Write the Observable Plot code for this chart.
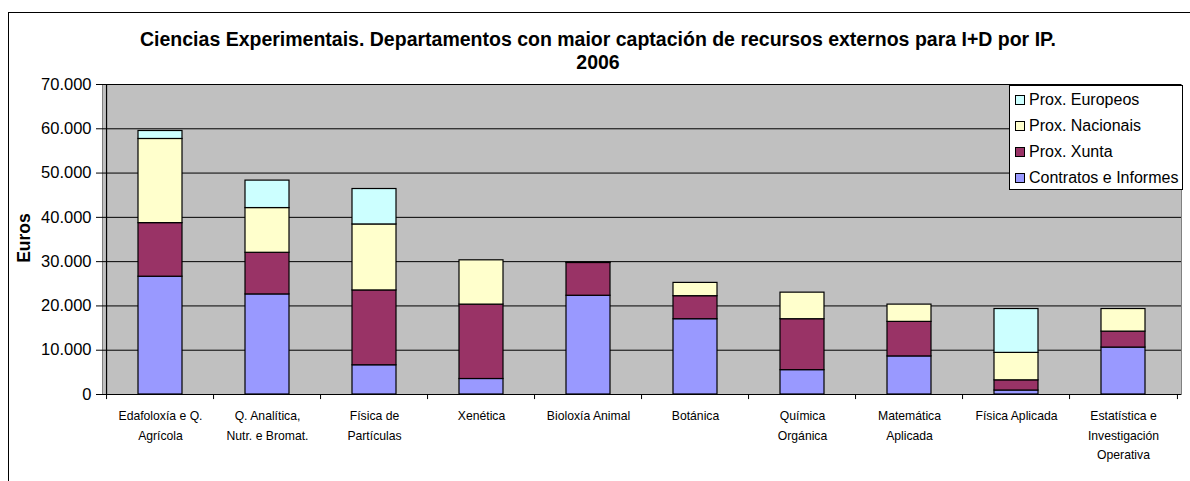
<!DOCTYPE html>
<html>
<head>
<meta charset="utf-8">
<script src="https://cdn.jsdelivr.net/npm/d3@7"></script>
<script src="https://cdn.jsdelivr.net/npm/@observablehq/plot@0.6"></script>
<style>
  html, body { margin: 0; padding: 0; background: #fff; overflow: hidden; }
  body { width: 1190px; height: 481px; position: relative; font-family: Arial, "Liberation Sans", sans-serif; }
  #frame { position: absolute; left: 8px; top: 12px; width: 1300px; height: 600px; border: 1.5px solid #000; box-sizing: border-box; }
  #chart { position: absolute; left: 0; top: 0; }
  #title { position: absolute; left: 60px; width: 1076px; top: 28px; text-align: center; font-weight: bold; font-size: 19.5px; line-height: 23px; color: #000; }
  #ylabel { position: absolute; left: 24px; top: 238px; transform: translate(-50%, -50%) rotate(-90deg); font-weight: bold; font-size: 17.5px; color: #000; white-space: nowrap; }
  #legend { position: absolute; left: 1009px; top: 85px; width: 174px; height: 105px; box-sizing: border-box; border: 1px solid #000; background: #fff; padding: 0.5px 0 0 5px; }
  .li { height: 26.2px; display: flex; align-items: center; font-size: 16px; color: #000; white-space: nowrap; }
  .sw { width: 8px; height: 8px; border: 1px solid #000; margin-right: 4px; flex: none; }
</style>
</head>
<body>
<div id="frame"></div>
<div id="chart"></div>
<div id="title"></div>
<div id="ylabel"></div>
<div id="legend"></div>
<script>
const titleText = "Ciencias Experimentais. Departamentos con maior captación de recursos externos para I+D por IP.";
const subtitleText = "2006";
const yLabel = "Euros";

const categories = [
  "Edafoloxía e Q. Agrícola",
  "Q. Analítica, Nutr. e Bromat.",
  "Física de Partículas",
  "Xenética",
  "Bioloxía Animal",
  "Botánica",
  "Química Orgánica",
  "Matemática Aplicada",
  "Física Aplicada",
  "Estatística e Investigación Operativa"
];
const tickLabels = [
  "Edafoloxía e Q.\nAgrícola",
  "Q. Analítica,\nNutr. e Bromat.",
  "Física de\nPartículas",
  "Xenética",
  "Bioloxía Animal",
  "Botánica",
  "Química\nOrgánica",
  "Matemática\nAplicada",
  "Física Aplicada",
  "Estatística e\nInvestigación\nOperativa"
];

const series = ["Contratos e Informes", "Prox. Xunta", "Prox. Nacionais", "Prox. Europeos"];
const seriesColors = ["#9999FF", "#993366", "#FFFFCC", "#CCFFFF"];

const contratos = [26600, 22600, 6600, 3500, 22300, 17000, 5500, 8600, 900, 10600];
const xunta     = [12100,  9400, 16900, 16800, 7400, 5200, 11500, 7800, 2300, 3600];
const nacionais = [19000, 10100, 14900, 10000,  100, 3000,  6000, 3900, 6200, 5100];
const europeos  = [ 1800,  6200,  8000,     0,    0,    0,     0,    0, 9900,    0];

const yTicks = [0, 10000, 20000, 30000, 40000, 50000, 60000, 70000];

const seriesValues = [contratos, xunta, nacionais, europeos];
const data = [];
series.forEach((s, si) => {
  categories.forEach((c, ci) => {
    data.push({category: c, series: s, value: seriesValues[si][ci]});
  });
});

const width = 1190, height = 481;
const marginLeft = 102, marginRight = 9, marginTop = 84, marginBottom = 87;
const step = (width - marginLeft - marginRight) / categories.length;
const fmt = v => d3.format(",")(v).replace(/,/g, ".");

const plot = Plot.plot({
  width, height, marginLeft, marginRight, marginTop, marginBottom,
  style: {fontFamily: "Arial, 'Liberation Sans', sans-serif", background: "transparent"},
  x: {domain: categories, paddingInner: 0.59, paddingOuter: 0.295, label: null},
  y: {domain: [0, 70000], label: null},
  color: {domain: series, range: seriesColors},
  marks: [
    Plot.frame({fill: "#C0C0C0", stroke: "#808080"}),
    Plot.gridY(yTicks, {stroke: "#000", strokeOpacity: 1, strokeWidth: 1}),
    Plot.barY(data, {x: "category", y: "value", fill: "series", order: series, stroke: "#000", strokeWidth: 1.2}),
    Plot.ruleX([categories[0]], {x: d => d, dx: -step / 2, stroke: "#000", strokeWidth: 1.2}),
    Plot.ruleY([0], {stroke: "#000", strokeWidth: 1.2}),
    Plot.ruleX(categories, {x: d => d, dx: -step / 2, y1: 0, y2: -1150, stroke: "#000"}),
    Plot.ruleX([categories[categories.length - 1]], {x: d => d, dx: step / 2, y1: 0, y2: -1150, stroke: "#000"}),
    Plot.axisY(yTicks, {tickFormat: fmt, tickSize: 6, tickPadding: 5, fontSize: 16.5, fill: "#000", stroke: "#000", label: null}),
    Plot.axisX({tickSize: 0, tickPadding: 12, fontSize: 12.2, lineHeight: 1.6, fill: "#000", label: null,
      tickFormat: d => tickLabels[categories.indexOf(d)]})
  ]
});
document.getElementById("chart").appendChild(plot);

document.getElementById("title").innerHTML = titleText + "<br>" + subtitleText;
document.getElementById("ylabel").textContent = yLabel;

const legend = document.getElementById("legend");
[...series].reverse().forEach(s => {
  const row = document.createElement("div");
  row.className = "li";
  const sw = document.createElement("span");
  sw.className = "sw";
  sw.style.background = seriesColors[series.indexOf(s)];
  const t = document.createElement("span");
  t.textContent = s;
  row.appendChild(sw);
  row.appendChild(t);
  legend.appendChild(row);
});
</script>
</body>
</html>
